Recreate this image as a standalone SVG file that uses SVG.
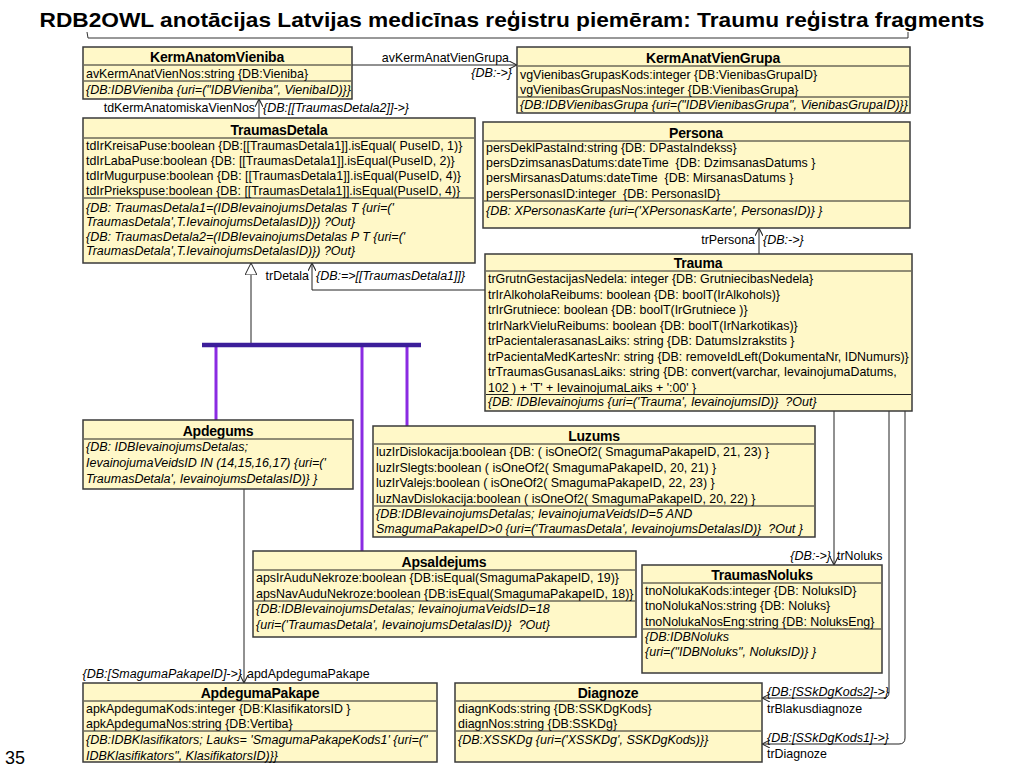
<svg xmlns="http://www.w3.org/2000/svg" width="1024" height="768" viewBox="0 0 1024 768">
<defs>
<style>
.box{fill:#FFF8C8;stroke:#3a3a3a;stroke-width:1.5}
.sep{stroke:#222;stroke-width:1}
.hdr{font-family:"Liberation Sans",Arial,sans-serif;font-size:14px;font-weight:bold;text-anchor:middle;fill:#000;letter-spacing:-0.2px}
.att{font-family:"Liberation Sans",Arial,sans-serif;font-size:12.4px;fill:#000;white-space:pre}
.con{font-family:"Liberation Sans",Arial,sans-serif;font-size:12.5px;font-style:italic;fill:#000;white-space:pre}
.lbl{font-family:"Liberation Sans",Arial,sans-serif;font-size:12.4px;fill:#000}
.end{text-anchor:end}
.edge{stroke:#222;stroke-width:1;fill:none}
.genv{stroke:#8A2BE2;stroke-width:3;fill:none}
.bar{stroke:#3C1E9A;stroke-width:4.5;fill:none}
</style>
<marker id="arr" viewBox="0 0 10 10" refX="10" refY="5" markerWidth="8" markerHeight="8" orient="auto" markerUnits="userSpaceOnUse">
<path d="M0,0 L10,5 L0,10" fill="none" stroke="#222" stroke-width="1.3"/>
</marker>
<marker id="tri" viewBox="0 0 12 12" refX="12" refY="6" markerWidth="12" markerHeight="12" orient="auto" markerUnits="userSpaceOnUse">
<path d="M0,0 L12,6 L0,12 Z" fill="#fff" stroke="#222" stroke-width="1"/>
</marker>
</defs>
<rect width="1024" height="768" fill="#fff"/>
<text x="512" y="27" font-family="Liberation Sans,Arial,sans-serif" font-size="21" font-weight="bold" text-anchor="middle" textLength="945" lengthAdjust="spacingAndGlyphs">RDB2OWL anotācijas Latvijas medicīnas reģistru piemēram: Traumu reģistra fragments</text>
<path d="M87,32 L88,38 L908,38 L908,32" fill="none" stroke="#333" stroke-width="1"/>
<text x="5" y="764" font-family="Liberation Sans,Arial,sans-serif" font-size="18">35</text>

<g id="connectors">
<path class="edge" d="M352,65 L517,65" marker-end="url(#arr)"/>
<text class="lbl end" x="509" y="62">avKermAnatVienGrupa</text>
<text class="con end" x="512" y="77">{DB:-&gt;}</text>

<path class="edge" d="M259,118 L259,99" marker-end="url(#arr)"/>
<text class="lbl end" x="255" y="112">tdKermAnatomiskaVienNos</text>
<text class="con" x="263" y="112">{DB:[[TraumasDetala2]]-&gt;}</text>

<path class="edge" d="M485,290 L312,290 L312,263" marker-end="url(#arr)"/>
<text class="lbl end" x="309" y="280">trDetala</text>
<text class="con" x="316" y="280">{DB:=&gt;[[TraumasDetala1]]}</text>

<path class="edge" d="M759,254 L759,228" marker-end="url(#arr)"/>
<text class="lbl end" x="755" y="244">trPersona</text>
<text class="con" x="763" y="244">{DB:-&gt;}</text>

<path class="edge" d="M251,345 L251,263" marker-end="url(#tri)"/>
<path class="genv" d="M216,345 L216,420"/>
<path class="genv" d="M362,345 L362,551"/>
<path class="genv" d="M407,345 L407,426"/>
<path class="bar" d="M202,345 L421,345"/>

<path class="edge" d="M244,489 L244,683" marker-end="url(#arr)"/>
<text class="con end" x="242" y="678">{DB:[SmagumaPakapeID]-&gt;}</text>
<text class="lbl" x="247" y="678">apdApdegumaPakape</text>

<path class="edge" d="M834,411 L834,565" marker-end="url(#arr)"/>
<text class="con end" x="831" y="560">{DB:-&gt;}</text>
<text class="lbl" x="837" y="560">trNoluks</text>

<path class="edge" d="M889,411 L889,692 Q889,698 883,698 L762,698" marker-end="url(#arr)"/>
<text class="con" x="767" y="696">{DB:[SSkDgKods2]-&gt;}</text>
<text class="lbl" x="767" y="713">trBlakusdiagnoze</text>

<path class="edge" d="M905,411 L905,738 Q905,744 899,744 L762,744" marker-end="url(#arr)"/>
<text class="con" x="767" y="742">{DB:[SSkDgKods1]-&gt;}</text>
<text class="lbl" x="767" y="758">trDiagnoze</text>
</g>

<g id="KermAnatomVieniba">
<rect class="box" x="83" y="47" width="269" height="52"/>
<text class="hdr" x="217" y="62">KermAnatomVieniba</text>
<line class="sep" x1="84" y1="65" x2="351" y2="65"/>
<text class="att" x="86" y="78">avKermAnatVienNos:string {DB:Vieniba}</text>
<line class="sep" x1="84" y1="81" x2="351" y2="81"/>
<text class="con" x="86" y="94">{DB:IDBVieniba {uri=("IDBVieniba", VienibaID)}}</text>
</g>

<g id="KermAnatVienGrupa">
<rect class="box" x="517" y="47" width="393" height="66"/>
<text class="hdr" x="713" y="63">KermAnatVienGrupa</text>
<line class="sep" x1="518" y1="66" x2="909" y2="66"/>
<text class="att" x="520" y="79">vgVienibasGrupasKods:integer {DB:VienibasGrupaID}</text>
<text class="att" x="520" y="94">vgVienibasGrupasNos:integer {DB:VienibasGrupa}</text>
<line class="sep" x1="518" y1="97" x2="909" y2="97"/>
<text class="con" x="520" y="109">{DB:IDBVienibasGrupa {uri=("IDBVienibasGrupa", VienibasGrupaID)}}</text>
</g>

<g id="TraumasDetala">
<rect class="box" x="83" y="118" width="392" height="145"/>
<text class="hdr" x="279" y="135">TraumasDetala</text>
<line class="sep" x1="84" y1="138" x2="474" y2="138"/>
<text class="att" x="86" y="150">tdIrKreisaPuse:boolean {DB:[[TraumasDetala1]].isEqual( PuseID, 1)}</text>
<text class="att" x="86" y="165">tdIrLabaPuse:boolean {DB: [[TraumasDetala1]].isEqual(PuseID, 2)}</text>
<text class="att" x="86" y="180">tdIrMugurpuse:boolean {DB: [[TraumasDetala1]].isEqual(PuseID, 4)}</text>
<text class="att" x="86" y="195">tdIrPriekspuse:boolean {DB: [[TraumasDetala1]].isEqual(PuseID, 4)}</text>
<line class="sep" x1="84" y1="198" x2="474" y2="198"/>
<text class="con" x="86" y="212">{DB: TraumasDetala1=(IDBIevainojumsDetalas T {uri=('</text>
<text class="con" x="86" y="226">TraumasDetala',T.IevainojumsDetalasID)}) ?Out}</text>
<text class="con" x="86" y="241">{DB: TraumasDetala2=(IDBIevainojumsDetalas P T {uri=('</text>
<text class="con" x="86" y="255">TraumasDetala',T.IevainojumsDetalasID)}) ?Out}</text>
</g>

<g id="Persona">
<rect class="box" x="483" y="122" width="427" height="106"/>
<text class="hdr" x="696" y="138">Persona</text>
<line class="sep" x1="484" y1="141" x2="909" y2="141"/>
<text class="att" x="486" y="152">persDeklPastaInd:string {DB: DPastaIndekss}</text>
<text class="att" x="486" y="167">persDzimsanasDatums:dateTime  {DB: DzimsanasDatums }</text>
<text class="att" x="486" y="182">persMirsanasDatums:dateTime  {DB: MirsanasDatums }</text>
<text class="att" x="486" y="198">persPersonasID:integer  {DB: PersonasID}</text>
<line class="sep" x1="484" y1="201" x2="909" y2="201"/>
<text class="con" x="486" y="215">{DB: XPersonasKarte {uri=('XPersonasKarte', PersonasID)} }</text>
</g>

<g id="Trauma">
<rect class="box" x="485" y="254" width="427" height="157"/>
<text class="hdr" x="698" y="268">Trauma</text>
<line class="sep" x1="486" y1="271" x2="911" y2="271"/>
<text class="att" x="488" y="283">trGrutnGestacijasNedela: integer {DB: GrutniecibasNedela}</text>
<text class="att" x="488" y="298.5">trIrAlkoholaReibums: boolean {DB: boolT(IrAlkohols)}</text>
<text class="att" x="488" y="314">trIrGrutniece: boolean {DB: boolT(IrGrutniece )}</text>
<text class="att" x="488" y="329.5">trIrNarkVieluReibums: boolean {DB: boolT(IrNarkotikas)}</text>
<text class="att" x="488" y="345">trPacientalerasanasLaiks: string {DB: DatumsIzrakstits }</text>
<text class="att" x="488" y="360.5">trPacientaMedKartesNr: string {DB: removeIdLeft(DokumentaNr, IDNumurs)}</text>
<text class="att" x="488" y="376">trTraumasGusanasLaiks: string {DB: convert(varchar, IevainojumaDatums,</text>
<text class="att" x="488" y="391.5">102 ) + 'T' + IevainojumaLaiks + ':00' }</text>
<line class="sep" x1="486" y1="394.5" x2="911" y2="394.5"/>
<text class="con" x="488" y="406">{DB: IDBIevainojums {uri=('Trauma', IevainojumsID)}  ?Out}</text>
</g>

<g id="Apdegums">
<rect class="box" x="83" y="420" width="270" height="69"/>
<text class="hdr" x="218" y="436">Apdegums</text>
<line class="sep" x1="84" y1="439" x2="352" y2="439"/>
<text class="con" x="86" y="451">{DB: IDBIevainojumsDetalas;</text>
<text class="con" x="86" y="467">IevainojumaVeidsID IN (14,15,16,17) {uri=('</text>
<text class="con" x="86" y="483">TraumasDetala', IevainojumsDetalasID)} }</text>
</g>

<g id="Luzums">
<rect class="box" x="373" y="426" width="442" height="111"/>
<text class="hdr" x="594" y="441">Luzums</text>
<line class="sep" x1="374" y1="444" x2="814" y2="444"/>
<text class="att" x="376" y="456">luzIrDislokacija:boolean {DB: ( isOneOf2( SmagumaPakapeID, 21, 23) }</text>
<text class="att" x="376" y="472">luzIrSlegts:boolean ( isOneOf2( SmagumaPakapeID, 20, 21) }</text>
<text class="att" x="376" y="487">luzIrValejs:boolean ( isOneOf2( SmagumaPakapeID, 22, 23) }</text>
<text class="att" x="376" y="503">luzNavDislokacija:boolean ( isOneOf2( SmagumaPakapeID, 20, 22) }</text>
<line class="sep" x1="374" y1="506" x2="814" y2="506"/>
<text class="con" x="376" y="518">{DB:IDBIevainojumsDetalas; IevainojumaVeidsID=5 AND</text>
<text class="con" x="376" y="533">SmagumaPakapeID&gt;0 {uri=('TraumasDetala', IevainojumsDetalasID)}  ?Out }</text>
</g>

<g id="Apsaldejums">
<rect class="box" x="253" y="551" width="383" height="86"/>
<text class="hdr" x="444" y="567">Apsaldejums</text>
<line class="sep" x1="254" y1="570" x2="635" y2="570"/>
<text class="att" x="256" y="582">apsIrAuduNekroze:boolean {DB:isEqual(SmagumaPakapeID, 19)}</text>
<text class="att" x="256" y="598">apsNavAuduNekroze:boolean {DB:isEqual(SmagumaPakapeID, 18)}</text>
<line class="sep" x1="254" y1="601" x2="635" y2="601"/>
<text class="con" x="256" y="613">{DB:IDBIevainojumsDetalas; IevainojumaVeidsID=18</text>
<text class="con" x="256" y="629">{uri=('TraumasDetala', IevainojumsDetalasID)}  ?Out}</text>
</g>

<g id="TraumasNoluks">
<rect class="box" x="642" y="565" width="240" height="108"/>
<text class="hdr" x="762" y="580">TraumasNoluks</text>
<line class="sep" x1="643" y1="583" x2="881" y2="583"/>
<text class="att" x="645" y="595">tnoNolukaKods:integer {DB: NoluksID}</text>
<text class="att" x="645" y="610">tnoNolukaNos:string {DB: Noluks}</text>
<text class="att" x="645" y="626">tnoNolukaNosEng:string {DB: NoluksEng}</text>
<line class="sep" x1="643" y1="629" x2="881" y2="629"/>
<text class="con" x="645" y="641">{DB:IDBNoluks</text>
<text class="con" x="645" y="656">{uri=("IDBNoluks", NoluksID)} }</text>
</g>

<g id="ApdegumaPakape">
<rect class="box" x="83" y="683" width="354" height="79"/>
<text class="hdr" x="260" y="698">ApdegumaPakape</text>
<line class="sep" x1="84" y1="701" x2="436" y2="701"/>
<text class="att" x="86" y="713">apkApdegumaKods:integer {DB:KlasifikatorsID }</text>
<text class="att" x="86" y="728">apkApdegumaNos:string {DB:Vertiba}</text>
<line class="sep" x1="84" y1="731" x2="436" y2="731"/>
<text class="con" x="86" y="744">{DB:IDBKlasifikators; Lauks= 'SmagumaPakapeKods1' {uri=("</text>
<text class="con" x="86" y="760">IDBKlasifikators", KlasifikatorsID)}}</text>
</g>

<g id="Diagnoze">
<rect class="box" x="455" y="683" width="307" height="79"/>
<text class="hdr" x="608" y="698">Diagnoze</text>
<line class="sep" x1="456" y1="701" x2="761" y2="701"/>
<text class="att" x="458" y="713">diagnKods:string {DB:SSKDgKods}</text>
<text class="att" x="458" y="728">diagnNos:string {DB:SSKDg}</text>
<line class="sep" x1="456" y1="731" x2="761" y2="731"/>
<text class="con" x="458" y="744">{DB:XSSKDg {uri=('XSSKDg', SSKDgKods)}}</text>
</g>
</svg>
